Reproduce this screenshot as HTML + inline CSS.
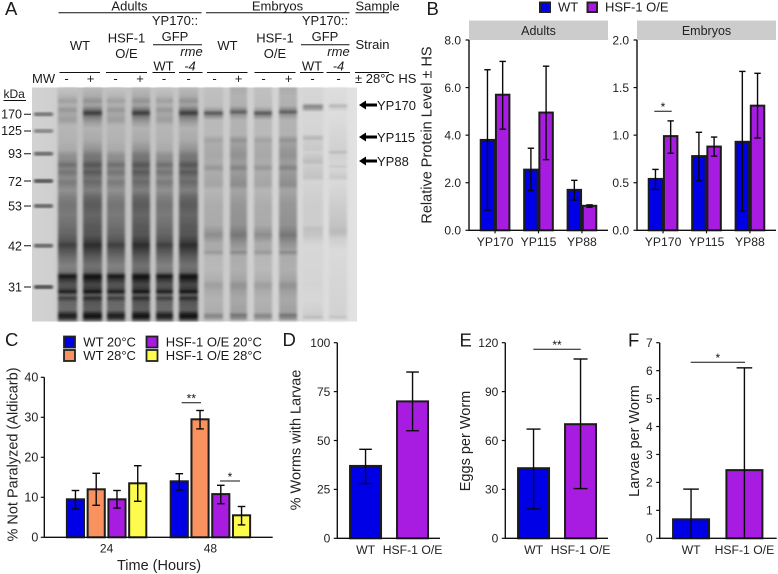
<!DOCTYPE html>
<html>
<head>
<meta charset="utf-8">
<title>YP levels figure</title>
<style>
html,body{margin:0;padding:0;background:#fff}
svg{display:block;font-family:"Liberation Sans",sans-serif;fill:#1a1a1a}
</style>
</head>
<body>
<svg id="fig" width="778" height="574" viewBox="0 0 778 574" xmlns="http://www.w3.org/2000/svg">
<defs>
<linearGradient id="gelBg" gradientUnits="userSpaceOnUse" x1="32" y1="0" x2="357" y2="0">
<stop offset="0" stop-color="#d2d2d2"/><stop offset="0.07" stop-color="#cfcfcf"/><stop offset="0.11" stop-color="#bdbdbd"/><stop offset="0.5" stop-color="#c6c6c6"/><stop offset="0.8" stop-color="#d6d6d6"/><stop offset="1" stop-color="#e2e2e2"/>
</linearGradient>
<filter id="gelBlur" x="-20%" y="-5%" width="140%" height="110%"><feGaussianBlur stdDeviation="1.3 0.8"/></filter>
</defs>

<g>
<rect x="32" y="87.5" width="325" height="234" fill="url(#gelBg)"/>
<g id="gelLanes" filter="url(#gelBlur)"></g>
</g>

<g font-size="13">
<text x="5" y="15" font-size="18.5">A</text>
<text x="129.5" y="10.5" text-anchor="middle">Adults</text>
<text x="277.5" y="10.5" text-anchor="middle">Embryos</text>
<text x="355.5" y="10.5">Sample</text>
<text x="80" y="50" text-anchor="middle">WT</text>
<text x="126.5" y="42.5" text-anchor="middle">HSF-1</text>
<text x="126.5" y="58" text-anchor="middle">O/E</text>
<text x="175" y="25" text-anchor="middle">YP170::</text>
<text x="175" y="41" text-anchor="middle">GFP</text>
<text x="163.5" y="70.5" text-anchor="middle">WT</text>
<text x="191.5" y="56" text-anchor="middle" font-style="italic">rme</text>
<text x="190" y="70.5" text-anchor="middle" font-style="italic">-4</text>
<text x="227.5" y="50" text-anchor="middle">WT</text>
<text x="275" y="42.5" text-anchor="middle">HSF-1</text>
<text x="275" y="58" text-anchor="middle">O/E</text>
<text x="325" y="25" text-anchor="middle">YP170::</text>
<text x="325" y="41" text-anchor="middle">GFP</text>
<text x="312" y="70.5" text-anchor="middle">WT</text>
<text x="338.5" y="56" text-anchor="middle" font-style="italic">rme</text>
<text x="338.5" y="70.5" text-anchor="middle" font-style="italic">-4</text>
<text x="355.5" y="49">Strain</text>
<text x="32" y="83">MW</text>
<text x="66.5" y="83" text-anchor="middle">-</text>
<text x="90.5" y="83" text-anchor="middle">+</text>
<text x="115.5" y="83" text-anchor="middle">-</text>
<text x="140" y="83" text-anchor="middle">+</text>
<text x="164" y="83" text-anchor="middle">-</text>
<text x="188.5" y="83" text-anchor="middle">-</text>
<text x="214.5" y="83" text-anchor="middle">-</text>
<text x="238.5" y="83" text-anchor="middle">+</text>
<text x="263.5" y="83" text-anchor="middle">-</text>
<text x="288.5" y="83" text-anchor="middle">+</text>
<text x="312.5" y="83" text-anchor="middle">-</text>
<text x="338.5" y="83" text-anchor="middle">-</text>
<text x="355" y="83">± 28°C HS</text>
<text x="3.5" y="98" font-size="12">kDa</text>
<g font-size="12.5" text-anchor="end">
<text x="22" y="118.7">170</text>
<text x="22" y="135">125</text>
<text x="22" y="158">93</text>
<text x="22" y="186">72</text>
<text x="22" y="210.5">53</text>
<text x="22" y="250.5">42</text>
<text x="22" y="291.5">31</text>
</g>
<g stroke="#111" stroke-width="1" fill="none">
<path d="M58.5 12.7H201.5"/>
<path d="M206 12.7H349.5"/>
<path d="M355.5 12.7H389"/>
<path d="M153 44.7H202"/>
<path d="M301 44.7H349.5"/>
<path d="M59.5 72.5H100M106 72.5H147M152.5 72.5H175M179 72.5H202.5M207 72.5H247.5M254.5 72.5H295.5M300 72.5H323.5M326.5 72.5H350M355 72.5H389"/>
<path d="M3.5 100.5H26"/>
<path d="M24 114.3H31M24 131H31M24 153.7H31M24 181H31M24 206H31M24 245.7H31M24 287H31"/>
</g>
<g>
<path d="M359 105l7-4.5v3h11v3h-11v3z" fill="#000"/>
<path d="M359 137l7-4.5v3h11v3h-11v3z" fill="#000"/>
<path d="M359 161l7-4.5v3h11v3h-11v3z" fill="#000"/>
<text x="377" y="110">YP170</text>
<text x="377" y="142">YP115</text>
<text x="377" y="166">YP88</text>
</g>
</g>

<g font-size="18.5">
<text x="426.5" y="15">B</text>
<text x="5" y="346">C</text>
<text x="282.5" y="346">D</text>
<text x="459.5" y="346.5">E</text>
<text x="628" y="346.5">F</text>
</g>

<g font-size="13">
<rect x="540" y="2.5" width="10" height="9.5" fill="#0000e6" stroke="#222" stroke-width="2"/>
<text x="558" y="11.5">WT</text>
<rect x="587.5" y="2.5" width="9.5" height="9.5" fill="#a81be0" stroke="#222" stroke-width="2"/>
<text x="605" y="11.5">HSF-1 O/E</text>
</g>
<g font-size="12.5">
<rect x="469" y="20.5" width="139" height="19.5" fill="#cccccc"/>
<text x="538.5" y="35" text-anchor="middle" fill="#222">Adults</text>
<rect x="637" y="20.5" width="139" height="19.5" fill="#cccccc"/>
<text x="706.5" y="35" text-anchor="middle" fill="#222">Embryos</text>
</g>
<g font-size="13">
<rect x="64" y="336.5" width="11" height="11" fill="#0000e6" stroke="#222" stroke-width="1.8"/>
<text x="83.3" y="346.7">WT 20°C</text>
<rect x="64" y="350" width="11" height="11" fill="#f9925f" stroke="#222" stroke-width="1.8"/>
<text x="83.3" y="360.2">WT 28°C</text>
<rect x="146.5" y="336.5" width="11" height="11" fill="#a81be0" stroke="#222" stroke-width="1.8"/>
<text x="165.7" y="346.7">HSF-1 O/E 20°C</text>
<rect x="146.5" y="350" width="11" height="11" fill="#fdfc4c" stroke="#222" stroke-width="1.8"/>
<text x="165.7" y="360.2">HSF-1 O/E 28°C</text>
</g>
<g id="charts"></g>

<script>
// Gel lane intensity profiles: [y position on gel, gray level]
const gelAdultMinus = [[88,195],[96,182],[101,158],[105,178],[110,150],[114,168],[120,158],[126,182],[140,178],[150,170],[155,145],[160,140],[165,110],[169,132],[172,115],[178,140],[182,122],[190,145],[198,125],[205,116],[215,122],[225,112],[235,100],[241,85],[245,62],[250,85],[258,110],[266,130],[272,118],[276,22],[279,50],[284,84],[288,80],[292,28],[295,108],[298,58],[302,102],[310,108],[315,30],[318,42],[321,125]];
const gelAdultPlus = [[88,185],[96,172],[101,145],[105,165],[109,125],[113,55],[117,125],[122,155],[128,178],[140,170],[150,145],[155,120],[160,115],[165,85],[169,106],[172,88],[178,115],[182,105],[190,128],[198,100],[205,90],[215,102],[225,90],[235,85],[241,64],[245,42],[250,64],[258,95],[266,114],[272,100],[276,14],[279,32],[284,70],[288,64],[292,18],[295,95],[298,40],[302,86],[310,94],[315,20],[318,28],[321,118]];
const gelEmbryoMinus = [[88,192],[106,188],[110,160],[113,82],[116,140],[120,185],[135,185],[140,162],[144,172],[155,168],[163,172],[168,150],[172,172],[185,165],[190,182],[205,172],[225,170],[235,140],[243,170],[250,170],[252,150],[256,182],[270,185],[280,175],[285,158],[292,172],[300,178],[312,172],[316,130],[319,160],[321,200]];
const gelEmbryoPlus = [[88,172],[96,178],[106,175],[110,130],[112,88],[115,150],[120,178],[135,178],[140,145],[144,160],[155,145],[163,158],[168,130],[172,155],[185,140],[190,165],[205,150],[225,145],[235,118],[243,145],[250,160],[252,135],[256,172],[270,175],[280,165],[285,145],[292,160],[300,168],[312,160],[315,115],[319,145],[321,195]];
const gelFaintOne = [[88,215],[103,212],[106,135],[109,155],[112,215],[134,212],[138,180],[141,205],[150,200],[152,210],[162,188],[165,205],[178,195],[181,212],[205,205],[225,205],[228,192],[235,197],[245,215],[285,212],[300,215],[315,205],[317,185],[319,205],[321,222]];
const gelFaintTwo = [[88,222],[103,218],[106,180],[108,205],[112,222],[150,208],[152,185],[155,210],[165,212],[166,198],[169,215],[178,200],[181,218],[205,205],[225,195],[232,185],[238,205],[250,218],[315,210],[317,192],[319,210],[321,225]];
const gelLaneLefts = [58,83,107,132,156,179,204,230,254,279,303,329];
const gelLaneWidths = [19,19,18,18,17,19,19,17,18,18,20,18];
const gelLaneProfiles = [gelAdultMinus,gelAdultPlus,gelAdultMinus,gelAdultPlus,gelAdultMinus,gelAdultPlus,gelEmbryoMinus,gelEmbryoPlus,gelEmbryoMinus,gelEmbryoPlus,gelFaintOne,gelFaintTwo];
const mwBandY = [114.3,131,153.7,181,206,245.7,287];
const mwBandGray = [125,140,115,95,110,110,90];

// Panel B
const bCategories = ['YP170','YP115','YP88'];
const adultsWT = [3.8,2.55,1.7];
const adultsWTHigh = [6.75,3.45,2.1];
const adultsWTLow = [0.85,1.67,1.27];
const adultsHSF = [5.7,4.95,1.03];
const adultsHSFHigh = [7.1,6.9,1.07];
const adultsHSFLow = [4.25,2.97,0.97];
const adultsTicks = ['0.0','2.0','4.0','6.0','8.0'];
const embryosWT = [0.54,0.78,0.93];
const embryosWTHigh = [0.64,1.03,1.67];
const embryosWTLow = [0.43,0.52,0.2];
const embryosHSF = [0.99,0.88,1.31];
const embryosHSFHigh = [1.15,0.98,1.65];
const embryosHSFLow = [0.81,0.78,0.97];
const embryosTicks = ['0.0','0.5','1.0','1.5','2.0'];

// Panel C
const cCategories = ['24','48'];
const cWT20 = [9.5,14];
const cWT20High = [11.7,15.9];
const cWT20Low = [7.1,11.8];
const cWT28 = [12,29.5];
const cWT28High = [16,31.7];
const cWT28Low = [8,27.1];
const cHSF20 = [9.5,10.8];
const cHSF20High = [11.7,13];
const cHSF20Low = [7.3,8.4];
const cHSF28 = [13.5,5.5];
const cHSF28High = [17.9,7.7];
const cHSF28Low = [9,3.1];
const cTicks = ['0','10','20','30','40'];

// Panels D, E, F
const strainCategories = ['WT','HSF-1 O/E'];
const dValues = [37,70];
const dHigh = [45.5,85];
const dLow = [28,55];
const dTicks = ['0','25','50','75','100'];
const eValues = [43,70];
const eHigh = [67,110];
const eLow = [18,30.5];
const eTicks = ['0','30','60','90','120'];
const fValues = [0.68,2.44];
const fHigh = [1.76,6.1];
const fLow = [0,0];
const fTicks = ['0','1','2','3','4','5','6','7'];

const SVGNS = 'http://www.w3.org/2000/svg';
const BLUE = '#0000e6', PURPLE = '#a81be0', ORANGE = '#f9925f', YELLOW = '#fdfc4c';
const chartsRoot = document.getElementById('charts');

function svgEl(tag, attrs, parent) {
  const el = document.createElementNS(SVGNS, tag);
  for (const k in attrs) el.setAttribute(k, attrs[k]);
  parent.appendChild(el);
  return el;
}

function drawGel() {
  const root = document.getElementById('gelLanes');
  const defs = document.querySelector('svg defs');
  const top = 87.5, h = 234;
  gelLaneLefts.forEach(function (left, i) {
    const gid = 'laneGrad' + i;
    const g = svgEl('linearGradient', {id: gid, gradientUnits: 'userSpaceOnUse', x1: 0, y1: top, x2: 0, y2: top + h}, defs);
    gelLaneProfiles[i].forEach(function (p) {
      svgEl('stop', {offset: (p[0] - top) / h, 'stop-color': 'rgb(' + p[1] + ',' + p[1] + ',' + p[1] + ')'}, g);
    });
    const lane = svgEl('rect', {x: left, y: top, width: gelLaneWidths[i], height: h, fill: 'url(#' + gid + ')'}, root);
    
    
  });
  mwBandY.forEach(function (y, i) {
    const g = mwBandGray[i];
    const band = svgEl('rect', {x: 34, y: y - 2, width: 19, height: 4, rx: 1.5, fill: 'rgb(' + g + ',' + g + ',' + g + ')'}, root);
    
    
  });
}

function yScale(p) {
  return function (v) { return p.yBottom - (v / p.max) * (p.yBottom - p.yTop); };
}

function drawAxes(p, tickLabels, categories, catX, name) {
  const g = svgEl('g', {}, chartsRoot);
  
  
  const y = yScale(p);
  const yAxis = svgEl('line', {x1: p.x0, x2: p.x0, y1: p.yTop, y2: p.yBottom + 0.6, stroke: '#111', 'stroke-width': 1.4}, g);
  
  
  tickLabels.forEach(function (lab) {
    const v = parseFloat(lab);
    const t = svgEl('line', {x1: p.x0 - 3.5, x2: p.x0, y1: y(v), y2: y(v), stroke: '#111', 'stroke-width': 1.2}, g);
    
    
    const tx = svgEl('text', {x: p.x0 - p.tickGap, y: y(v) + 4.3, 'text-anchor': 'end', 'font-size': p.tickSize, fill: '#222'}, g);
    tx.textContent = lab;
    
    
  });
  categories.forEach(function (lab, i) {
    const cx = catX(i);
    if (p.xTicks) {
      const t = svgEl('line', {x1: cx, x2: cx, y1: p.yBottom, y2: p.yBottom + 3, stroke: '#111', 'stroke-width': 1.2}, g);
      
      
    }
    const tx = svgEl('text', {x: cx, y: p.labelY, 'text-anchor': 'middle', 'font-size': p.catSize, fill: '#222'}, g);
    tx.textContent = lab;
    
    
  });
}

function drawXAxisLine(p, name) {
  const xAxis = svgEl('line', {x1: p.x0, x2: p.x1, y1: p.yBottom, y2: p.yBottom, stroke: '#111', 'stroke-width': 1.4}, chartsRoot);
  
  
}

function drawBar(p, cx, w, value, hi, lo, fill, capHalf, name) {
  const y = yScale(p);
  const g = svgEl('g', {}, chartsRoot);
  
  
  const r = svgEl('rect', {x: cx - w / 2, y: y(value), width: w, height: p.yBottom - y(value), fill: fill, stroke: '#1c1c1c', 'stroke-width': 2}, g);
  
  
  const stem = svgEl('line', {x1: cx, x2: cx, y1: y(hi), y2: y(lo), stroke: '#0a0a0a', 'stroke-width': 1.4}, g);
  
  
  const capHi = svgEl('line', {x1: cx - capHalf, x2: cx + capHalf, y1: y(hi), y2: y(hi), stroke: '#0a0a0a', 'stroke-width': 1.4}, g);
  
  
  if (lo > 0) {
    const capLo = svgEl('line', {x1: cx - capHalf, x2: cx + capHalf, y1: y(lo), y2: y(lo), stroke: '#0a0a0a', 'stroke-width': 1.4}, g);
    
    
  }
}

function drawSig(x1, x2, yLine, stars) {
  const line = svgEl('line', {x1: x1, x2: x2, y1: yLine, y2: yLine, stroke: '#111', 'stroke-width': 1}, chartsRoot);
  
  
  const t = svgEl('text', {x: (x1 + x2) / 2, y: yLine - 0.2, 'text-anchor': 'middle', 'font-size': 12, fill: '#111'}, chartsRoot);
  t.textContent = stars;
  
  
}

function drawTitle(x, y, text, rotate, name) {
  const t = svgEl('text', {x: x, y: y, 'text-anchor': 'middle', 'font-size': 14.5, fill: '#222'}, chartsRoot);
  if (rotate) t.setAttribute('transform', 'rotate(-90 ' + x + ' ' + y + ')');
  t.textContent = text;
  
  
}

function drawFacetB(p, ticks, wt, wtHi, wtLo, hsf, hsfHi, hsfLo, name) {
  const unit = (p.x1 - p.x0) / 3.2;
  const catX = function (i) { return p.x0 + (i + 0.6) * unit; };
  drawAxes(p, ticks, bCategories, catX, name);
  const w = 0.31 * unit;
  bCategories.forEach(function (c, i) {
    const cx = catX(i);
    drawBar(p, cx - 0.175 * unit, w, wt[i], wtHi[i], wtLo[i], BLUE, 3.2, name + '-wt-' + c.toLowerCase());
    drawBar(p, cx + 0.175 * unit, w, hsf[i], hsfHi[i], hsfLo[i], PURPLE, 3.2, name + '-hsf1-' + c.toLowerCase());
  });
  drawXAxisLine(p, name);
}

function drawPanelC() {
  const p = {x0: 44.3, x1: 272.7, yTop: 377.3, yBottom: 537.3, max: 40, tickGap: 6, tickSize: 12.5, catSize: 12, labelY: 552.5, xTicks: false};
  const unit = (p.x1 - p.x0) / 2.2;
  const catX = function (i) { return p.x0 + (i + 0.6) * unit; };
  drawAxes(p, cTicks, cCategories, catX, 'panel-c');
  const series = [
    [cWT20, cWT20High, cWT20Low, BLUE, 'wt-20'],
    [cWT28, cWT28High, cWT28Low, ORANGE, 'wt-28'],
    [cHSF20, cHSF20High, cHSF20Low, PURPLE, 'hsf1-20'],
    [cHSF28, cHSF28High, cHSF28Low, YELLOW, 'hsf1-28']
  ];
  cCategories.forEach(function (c, i) {
    series.forEach(function (s, j) {
      const cx = catX(i) + (j - 1.5) * 0.2 * unit;
      drawBar(p, cx, 0.165 * unit, s[0][i], s[1][i], s[2][i], s[3], 3.8, 'panel-c-' + s[4] + '-' + c);
    });
  });
  drawXAxisLine(p, 'panel-c');
  drawSig(181.7, 201, 402.7, '**');
  drawSig(220, 240, 481, '*');
  drawTitle(159, 570, 'Time (Hours)', false, 'panel-c-x-title');
  drawTitle(17.5, 454.5, '% Not Paralyzed (Aldicarb)', true, 'panel-c-y-title');
}

function drawStrainPanel(p, ticks, vals, hi, lo, name, capHalf) {
  const span = p.x1 - p.x0;
  const catX = function (i) { return p.x0 + p.first * span + i * p.gap * span; };
  drawAxes(p, ticks, strainCategories, catX, name);
  strainCategories.forEach(function (c, i) {
    drawBar(p, catX(i), p.barW, vals[i], hi[i], lo[i], i === 0 ? BLUE : PURPLE, capHalf, name + (i === 0 ? '-wt' : '-hsf1'));
  });
  drawXAxisLine(p, name);
}

drawGel();
drawFacetB({x0: 469, x1: 608, yTop: 40, yBottom: 230.3, max: 8, tickGap: 8, tickSize: 12, catSize: 12.2, labelY: 246, xTicks: true},
  adultsTicks, adultsWT, adultsWTHigh, adultsWTLow, adultsHSF, adultsHSFHigh, adultsHSFLow, 'panel-b-adults');
drawFacetB({x0: 637, x1: 776, yTop: 40, yBottom: 230.3, max: 2, tickGap: 8, tickSize: 12, catSize: 12.2, labelY: 246, xTicks: true},
  embryosTicks, embryosWT, embryosWTHigh, embryosWTLow, embryosHSF, embryosHSFHigh, embryosHSFLow, 'panel-b-embryos');
drawSig(654.3, 671.7, 111.3, '*');
drawTitle(431.5, 135, 'Relative Protein Level ± HS', true, 'panel-b-y-title');
drawPanelC();
const stripP = {yTop: 342.7, yBottom: 538.3, tickGap: 7, tickSize: 12, catSize: 12.2, labelY: 554, xTicks: false};
drawStrainPanel(Object.assign({}, stripP, {x0: 337.3, x1: 440, max: 100, first: 0.275, gap: 0.4577, barW: 31}), dTicks, dValues, dHigh, dLow, 'panel-d', 6.3);
drawStrainPanel(Object.assign({}, stripP, {x0: 505.3, x1: 608, max: 120, first: 0.275, gap: 0.4577, barW: 31}), eTicks, eValues, eHigh, eLow, 'panel-e', 7);
drawStrainPanel(Object.assign({}, stripP, {x0: 659.7, x1: 776.7, max: 7, first: 0.268, gap: 0.456, barW: 36}), fTicks, fValues, fHigh, fLow, 'panel-f', 7.8);
drawSig(533.3, 580.7, 349.3, '**');
drawSig(690.7, 745, 362.3, '*');
drawTitle(300.5, 440, '% Worms with Larvae', true, 'panel-d-y-title');
drawTitle(470, 441, 'Eggs per Worm', true, 'panel-e-y-title');
drawTitle(639, 441, 'Larvae per Worm', true, 'panel-f-y-title');
</script>
</svg>
</body>
</html>
